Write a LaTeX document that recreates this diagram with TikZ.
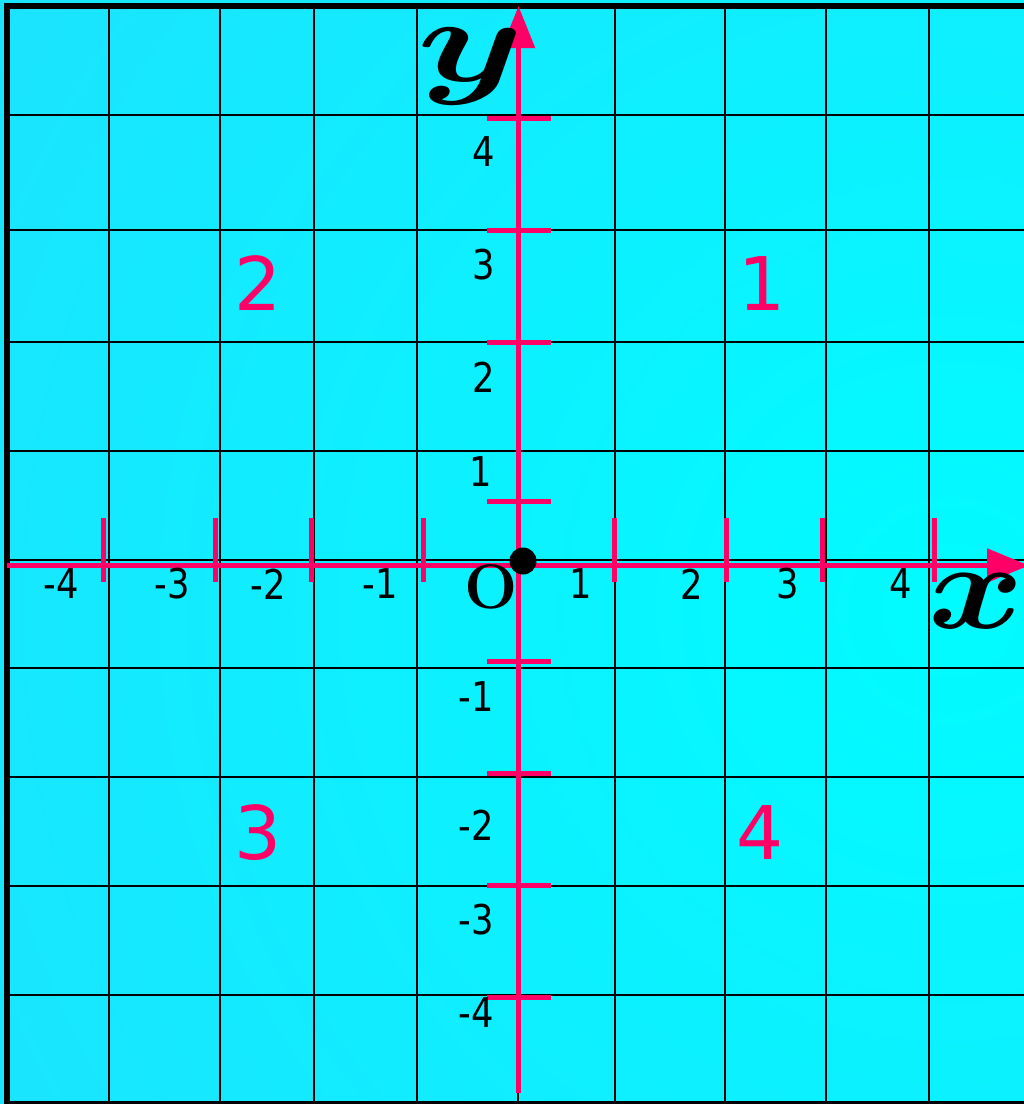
\documentclass[tikz,border=0pt]{standalone}
\usepackage{fontspec}
\usepackage{bm}
\newfontfamily\numf[FakeStretch=0.86]{DejaVu Sans}
\newfontfamily\quadf{DejaVu Sans}
\usetikzlibrary{arrows.meta}
\definecolor{axpink}{RGB}{255,0,102}
\definecolor{bgin}{RGB}{0,252,255}
\definecolor{bgout}{RGB}{46,210,255}
\tikzset{
  gridline/.style={black,line width=2.6pt},
  axisline/.style={axpink,line width=5.6pt},
  tickline/.style={axpink,line width=5pt},
  numlab/.style={inner sep=0pt,font=\numf\fontsize{41}{41}\selectfont},
  quadlab/.style={inner sep=0pt,text=axpink,font=\quadf\fontsize{74}{74}\selectfont}
}
\begin{document}
\begin{tikzpicture}[x=1pt,y=-1pt]
\useasboundingbox (0,0) rectangle (1024,1104);
\begin{scope}
\clip (0,0) rectangle (1024,1104);
\shade[inner color=bgin,outer color=bgout] (950,610) circle (1900);
% grid
\foreach \gx in {109,220,314,417,518,615,725,826,929}
  \draw[gridline] (\gx,6) -- (\gx,1104);
\foreach \gy in {115,230,342,451,560,668,777,886,995}
  \draw[gridline] (7,\gy) -- (1024,\gy);
% border
\draw[black,line width=6pt] (7,6) rectangle (1032,1104);
% axes
\coordinate (xs) at (7,565.5);
\coordinate (xe) at (1029,565.5);
\coordinate (ys) at (518.5,1093);
\coordinate (ye) at (518.5,6);
\draw[axisline,-{Triangle[length=42pt,width=33pt]}] (xs) -- (xe);
\draw[axisline,-{Triangle[length=42pt,width=32pt]}] (ys) -- (ye);
% ticks on y axis
\foreach \ty in {118,230,342,501,661,773,885,997}
  \draw[tickline] (487,\ty) -- (551,\ty);
% ticks on x axis
\foreach \tx in {103,215,311,423,614,726,822,934}
  \draw[tickline] (\tx,518) -- (\tx,582);
\end{scope}
% x-axis numbers
\node[numlab] (xm4) at (61,584) {-4};
\node[numlab] (xm3) at (172,584) {-3};
\node[numlab] (xm2) at (268,584) {-2};
\node[numlab] (xm1) at (380,584) {-1};
\node[numlab] (xp1) at (581,584) {1};
\node[numlab] (xp2) at (692,584) {2};
\node[numlab] (xp3) at (788,584) {3};
\node[numlab] (xp4) at (901,584) {4};
% y-axis numbers
\node[numlab] (yp4) at (484,152) {4};
\node[numlab] (yp3) at (484,265) {3};
\node[numlab] (yp2) at (484,377) {2};
\node[numlab] (yp1) at (481,472) {1};
\node[numlab] (ym1) at (476,697) {-1};
\node[numlab] (ym2) at (476,825) {-2};
\node[numlab] (ym3) at (476,920) {-3};
\node[numlab] (ym4) at (476,1013) {-4};
% quadrant numbers
\node[quadlab] (q1) at (762,284) {1};
\node[quadlab] (q2) at (258,283) {2};
\node[quadlab] (q3) at (258,833) {3};
\node[quadlab] (q4) at (760,833) {4};
% origin
\node[inner sep=0pt,font=\fontsize{63}{63}\selectfont\bfseries] (o) at (491,587) {O};
\fill[black] (523,561) circle (13.5);
% axis names
\node[inner sep=0pt,xscale=17,yscale=12] (ylab) at (471,66) {$\bm{y}$};
\node[inner sep=0pt,xscale=14.5,yscale=12.3] (xlab) at (976,601) {$\bm{x}$};
\end{tikzpicture}
\end{document}
